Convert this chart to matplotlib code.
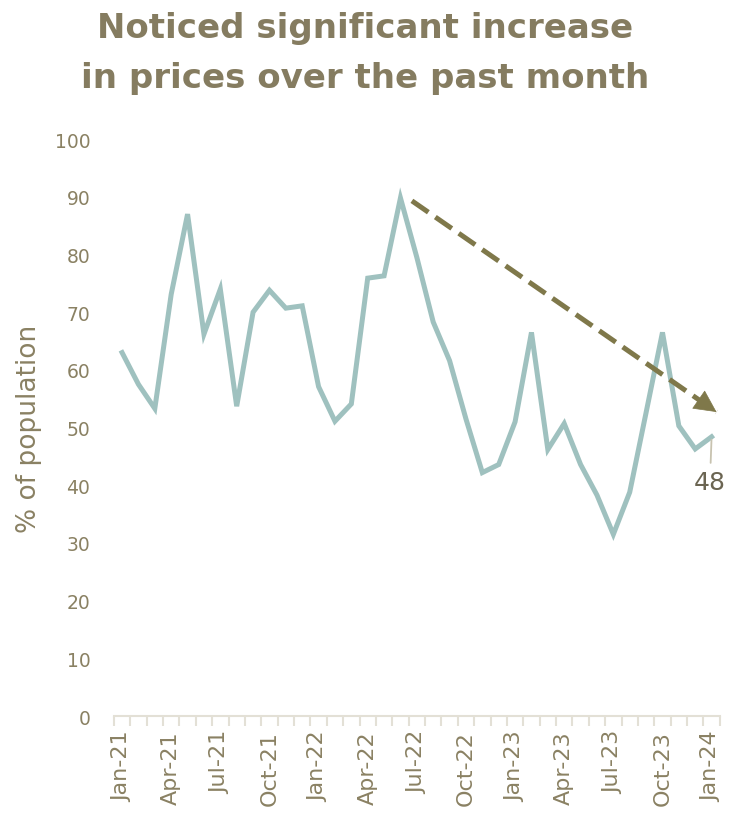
import matplotlib.pyplot as plt
from matplotlib.ticker import FixedLocator, NullFormatter

# monthly survey values, Jan-21 .. Jan-24
months = [
    "Jan-21", "Feb-21", "Mar-21", "Apr-21", "May-21", "Jun-21", "Jul-21",
    "Aug-21", "Sep-21", "Oct-21", "Nov-21", "Dec-21",
    "Jan-22", "Feb-22", "Mar-22", "Apr-22", "May-22", "Jun-22", "Jul-22",
    "Aug-22", "Sep-22", "Oct-22", "Nov-22", "Dec-22",
    "Jan-23", "Feb-23", "Mar-23", "Apr-23", "May-23", "Jun-23", "Jul-23",
    "Aug-23", "Sep-23", "Oct-23", "Nov-23", "Dec-23",
    "Jan-24",
]
share = [
    63.0, 57.5, 53.3, 73.1, 87.0, 66.2, 74.0, 53.7, 70.0, 73.8, 70.7, 71.1,
    57.1, 51.1, 54.1, 75.9, 76.3, 89.8, 79.5, 68.3, 61.6, 51.5, 42.2, 43.6,
    51.0, 66.5, 46.2, 50.7, 43.6, 38.3, 31.5, 38.8, 52.6, 66.5, 50.3, 46.3,
    48.4,
]
trend_x = [17.7, 36.3]
trend_y = [89.3, 52.7]

title_color = "#857c60"
tick_color = "#8a8163"
line_color = "#9fc1bf"
arrow_color = "#7f784a"

plt.rcParams["font.family"] = ["DejaVu Sans"]

fig = plt.figure(figsize=(7.3, 8.29), dpi=100)
ax = fig.add_axes([0.156, 0.135, 0.830, 0.696])

x = list(range(len(months)))
ax.plot(x, share, color=line_color, lw=3.6, solid_joinstyle="miter", zorder=3)

# trend arrow: dashed shaft plus solid head
ax.plot(trend_x, trend_y, color=arrow_color, lw=3.6,
        dashes=(4, 1.7), zorder=4, dash_capstyle="butt")
dx = trend_x[1] - trend_x[0]
dy = trend_y[1] - trend_y[0]
ax.annotate(
    "",
    xy=(trend_x[1], trend_y[1]),
    xytext=(trend_x[1] - 0.05 * dx, trend_y[1] - 0.05 * dy),
    arrowprops=dict(arrowstyle="-|>,head_length=1.5,head_width=0.75",
                    color=arrow_color, lw=0.5, shrinkA=0, shrinkB=0),
    zorder=5,
)

# last value label
last = len(share) - 1
ax.annotate(
    f"{round(share[last])}",
    xy=(last, share[last]),
    xytext=(last - 0.1, share[last] - 7.8),
    ha="center", va="center", fontsize=18, color="#6b6552",
    arrowprops=dict(arrowstyle="-", color="#c8c3b0", lw=1.3,
                    shrinkA=3, shrinkB=2),
)

ax.set_xlim(-0.5, len(months) - 0.5)
ax.set_ylim(0, 100)
ax.set_yticks(range(0, 101, 10))
ax.set_xticks(x[::3])
ax.set_xticklabels(months[::3], rotation=90)
ax.xaxis.set_minor_locator(FixedLocator([i - 0.5 for i in range(len(months) + 1)]))
ax.xaxis.set_minor_formatter(NullFormatter())

ax.tick_params(axis="x", which="major", length=0, pad=10,
               labelsize=16, labelcolor=tick_color)
ax.tick_params(axis="x", which="minor", length=7, width=1.5, color="#e3e0d6")
ax.tick_params(axis="y", length=0, pad=17, labelsize=13.5, labelcolor=tick_color)

for side in ["top", "right", "left"]:
    ax.spines[side].set_visible(False)
ax.spines["bottom"].set_color("#e3e0d6")
ax.spines["bottom"].set_linewidth(1.5)

ax.set_ylabel("% of population", fontsize=19, color=tick_color, labelpad=9)

fig.text(0.50, 0.985, "Noticed significant increase\nin prices over the past month",
         ha="center", va="top", fontsize=24.5, fontweight="bold",
         color=title_color, linespacing=1.65)

fig.savefig("out.png", dpi=100)
